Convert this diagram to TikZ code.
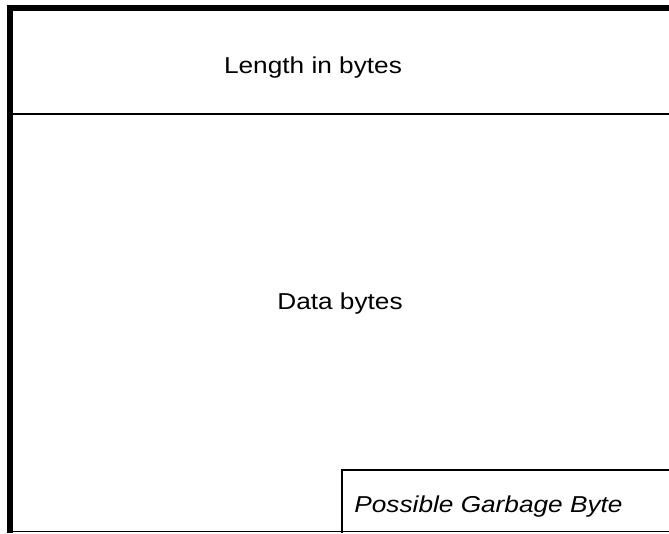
\documentclass[tikz,border=0pt]{standalone}
\usepackage{fontspec}
\setmainfont{Liberation Sans}
\usepackage{graphicx}
\begin{document}
\begin{tikzpicture}[x=1pt,y=-1pt,
  thickframe/.style={line width=6.5pt,line cap=butt},
  divider/.style={line width=2.6pt},
  boxline/.style={line width=2.8pt},
  baseline rule/.style={line width=1.3pt},
  label/.style={anchor=base,inner sep=0pt,font=\fontsize{23}{27}\selectfont}]
\useasboundingbox (0,0) rectangle (669,533);
\fill[white] (0,0) rectangle (669,533);
% outer frame
\draw[thickframe] (10,533) -- (10,8) -- (669,8);
\fill (6.75,4.75) rectangle (13.25,11.25);
% divider under header
\draw[divider] (13,114) -- (669,114);
% bottom rule
\draw[baseline rule] (13,531.5) -- (669,531.5);
% garbage byte box
\draw[boxline] (342,533) -- (342,470) -- (669,470);
% labels
\node[label] (len) at (313,73) {\scalebox{1.14}[1]{Length in bytes}};
\node[label] (data) at (340,309) {\scalebox{1.14}[1]{Data bytes}};
\node[label] (garb) at (488.5,512) {\scalebox{1.14}[1]{\itshape Possible Garbage Byte}};
\end{tikzpicture}
\end{document}
